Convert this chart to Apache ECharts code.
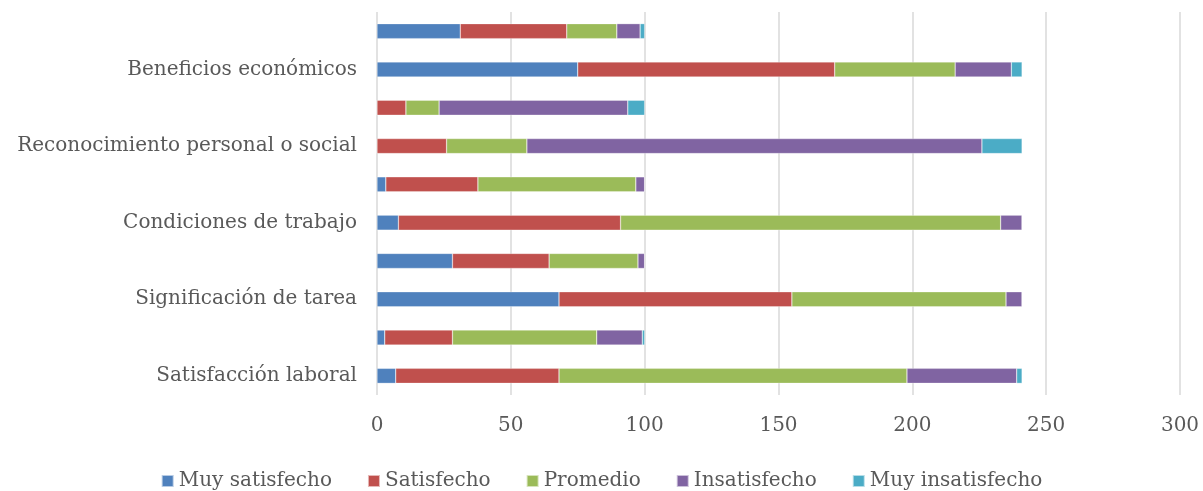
<!DOCTYPE html>
<html>
<head>
<meta charset="utf-8">
<script src="https://cdn.jsdelivr.net/npm/echarts@6/dist/echarts.min.js"></script>
<style>html,body{margin:0;padding:0;background:#fff}#c{width:1203px;height:491px}</style>
</head>
<body>
<div id="c"></div>
<script>
// categories bottom -> top (empty labels are the percentage rows)
const categories = ['Satisfacción laboral', '', 'Significación de tarea', '', 'Condiciones de trabajo', '', 'Reconocimiento personal o social', '', 'Beneficios económicos', ''];
const seriesNames = ['Muy satisfecho', 'Satisfecho', 'Promedio', 'Insatisfecho', 'Muy insatisfecho'];
const muySatisfecho   = [7, 2.9, 68, 28.2, 8, 3.3, 0, 0, 75, 31.1];
const satisfecho      = [61, 25.3, 87, 36.1, 83, 34.4, 26, 10.8, 96, 39.8];
const promedio        = [130, 53.9, 80, 33.2, 142, 59.0, 30, 12.4, 45, 18.7];
const insatisfecho    = [41, 17.0, 6, 2.5, 8, 3.3, 170, 70.5, 21, 8.7];
const muyInsatisfecho = [2, 0.9, 0, 0, 0, 0, 15, 6.3, 4, 1.7];
const xTicks = [0, 50, 100, 150, 200, 250, 300];
const colors = ['#4F81BD', '#C0504D', '#9BBB59', '#8064A2', '#4BACC6'];

const values = [muySatisfecho, satisfecho, promedio, insatisfecho, muyInsatisfecho];
const font = 'DejaVu Serif';
const chart = echarts.init(document.getElementById('c'));
chart.setOption({
  animation: false,
  color: colors,
  textStyle: { fontFamily: font },
  grid: { left: 377, right: 23, top: 12, bottom: 96, containLabel: false },
  xAxis: {
    type: 'value', min: xTicks[0], max: xTicks[xTicks.length - 1], interval: 50,
    axisLine: { show: false }, axisTick: { show: false },
    axisLabel: { color: '#595959', fontSize: 20, fontFamily: font, margin: 21 },
    splitLine: { show: true, lineStyle: { color: '#d9d9d9', width: 1.5 } }
  },
  yAxis: {
    type: 'category',
    data: categories.map((c, i) => 'r' + i),
    axisLine: { show: false }, axisTick: { show: false },
    axisLabel: { color: '#595959', fontSize: 20, fontFamily: font, margin: 20,
      formatter: (v) => categories[+v.slice(1)] },
    splitLine: { show: false }
  },
  legend: {
    top: 466, left: 'center', itemWidth: 12, itemHeight: 12, itemGap: 35,
    icon: 'rect',
    textStyle: { color: '#595959', fontSize: 20, fontFamily: font },
    data: seriesNames
  },
  series: seriesNames.map((n, k) => ({
    name: n, type: 'bar', stack: 'total', barWidth: 15,
    itemStyle: { color: colors[k], borderColor: 'rgba(255,255,255,0.6)', borderWidth: 0.5 },
    data: values[k]
  }))
});
</script>
</body>
</html>
